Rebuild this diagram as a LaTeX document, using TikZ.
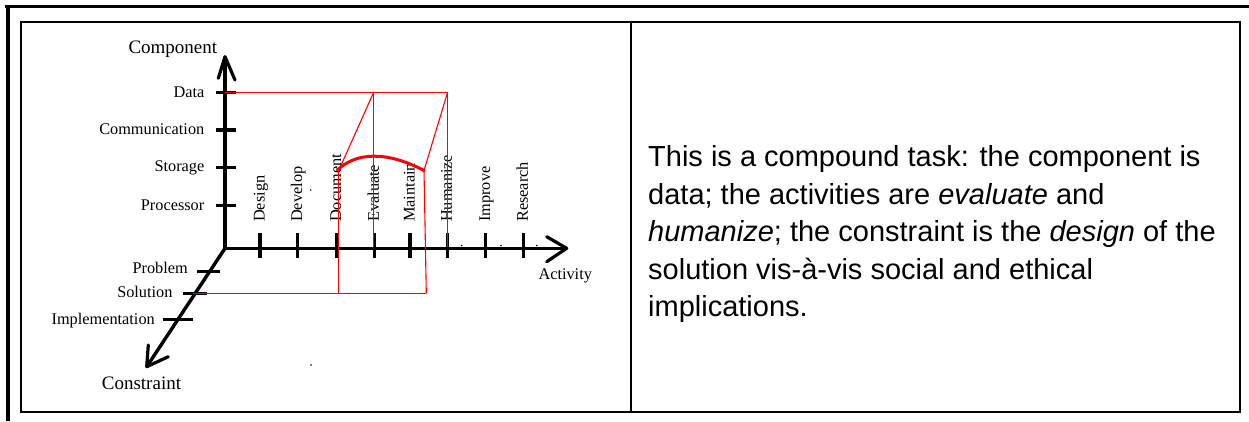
\documentclass[tikz,border=0pt]{standalone}
\usepackage{fontspec}
\setmainfont{Liberation Serif}
\newfontfamily\arialfont{Liberation Sans}
\begin{document}
\begin{tikzpicture}[x=1pt,y=-1pt,
  axis/.style={line width=3.4pt},
  barb/.style={line width=3.2pt, line cap=round, line join=round},
  tickmark/.style={line width=3.2pt},
  redline/.style={draw=red, line width=1.1pt},
  redcurve/.style={draw=red, line width=3pt, line cap=round},
  lbl/.style={font=\fontsize{16.3}{18}\selectfont, inner sep=0pt},
  biglbl/.style={font=\fontsize{19}{21}\selectfont, inner sep=0pt},
  speck/.style={fill=black, draw=none}]
\useasboundingbox (0,0) rectangle (1249,421);
% frame
\draw[line width=3.3pt] (5,6.7) -- (1249,6.7);
\draw[line width=3.5pt] (8,5) -- (8,421);
\draw[line width=2pt] (21,22) rectangle (1240,412);
\draw[line width=2pt] (631,22) -- (631,412);
% axes
\coordinate (O) at (225,248.3);
\coordinate (ytip) at (225,56.7);
\coordinate (xtip) at (566.7,248.3);
\coordinate (ztip) at (146.7,366.7);
\coordinate (yl) at (218.3,78.3);
\coordinate (yr) at (235,80);
\coordinate (xl) at (546.7,236.7);
\coordinate (xr) at (546.7,261.7);
\coordinate (zl) at (148.3,345);
\coordinate (zr) at (168.3,356.7);
\draw[axis] (O) -- (ytip);
\draw[axis] (O) -- (xtip);
\draw[axis] (O) -- (ztip);
\draw[barb] (yl) -- (ytip) -- (yr);
\draw[barb] (xl) -- (xtip) -- (xr);
\draw[barb] (zl) -- (ztip) -- (zr);
% component ticks
\foreach \yy/\nm in {92.7/Data, 130/Communication, 167.3/Storage, 205.7/Processor}{
  \draw[tickmark] (215.5,\yy) -- (236,\yy);
  \node[lbl, anchor=base east] (c\nm) at (204.5,\yy+4.5) {\nm};
}
% activity ticks
\foreach \xx/\nm in {260/Design, 297.7/Develop, 336.7/Document, 374.3/Evaluate, 410/Maintain, 447.3/Humanize, 485.7/Improve, 523.3/Research}{
  \draw[tickmark] (\xx,233.3) -- (\xx,258.3);
  \node[lbl, rotate=90, anchor=base west] (a\nm) at (\xx+4.5,222) {\nm};
}
% constraint ticks
\draw[tickmark] (196.7,271.7) -- (220,271.7);
\draw[tickmark] (183.3,293.3) -- (206.7,293.3);
\draw[tickmark] (163.3,319.3) -- (192.7,319.3);
\node[lbl, anchor=base east] (kProblem) at (188,273.5) {Problem};
\node[lbl, anchor=base east] (kSolution) at (172.7,297.7) {Solution};
\node[lbl, anchor=base east] (kImpl) at (155,324.3) {Implementation};
% axis titles
\node[biglbl, anchor=base west] (tComp) at (128.3,53.3) {Component};
\node[lbl, anchor=base west] (tAct) at (538.3,279.3) {Activity};
\node[biglbl, anchor=base west] (tCons) at (101.7,389.3) {Constraint};
% red construction
\coordinate (rData) at (225,92.7);
\coordinate (rEv) at (373.5,92.7);
\coordinate (rHu) at (447.5,92.7);
\coordinate (rEvB) at (373.5,247);
\coordinate (rHuB) at (447.5,247);
\coordinate (rD1) at (340.5,166.5);
\coordinate (cS) at (337.5,170);
\coordinate (cE) at (424,170.5);
\coordinate (bL) at (193,293.3);
\coordinate (bM) at (338.3,293.3);
\coordinate (bR) at (426.3,293.3);
\draw[redline] (rData) -- (rHu);
\draw[redline] (rEv) -- (rEvB);
\draw[redline] (rHu) -- (rHuB);
\draw[redline] (rEv) -- (rD1);
\draw[redline] (rHu) -- (cE);
\draw[redline] (338.3,170) -- (bM);
\draw[redline] (cE) -- (bR);
\draw[redline] (bL) -- (bR);
\draw[redcurve] (cS) .. controls (355,153) and (385,150) .. (cE);
% specks
\fill[speck] (461.7,245.5) circle (0.9);
\fill[speck] (501,245.5) circle (0.9);
\fill[speck] (536.7,245.5) circle (0.9);
\fill[speck] (310.7,190) circle (0.8);
\fill[speck] (311,365) circle (0.8);
% right text
\node[anchor=base west, inner sep=0pt] (txt) at (648,166.5) {\parbox[t]{700pt}{\arialfont\fontsize{29}{37.6}\selectfont
This is a compound task: the component is\\
data; the activities are \textit{evaluate} and\\
\textit{humanize}; the constraint is the \textit{design} of the\\
solution vis-à-vis social and ethical\\
implications.}};
\end{tikzpicture}
\end{document}
